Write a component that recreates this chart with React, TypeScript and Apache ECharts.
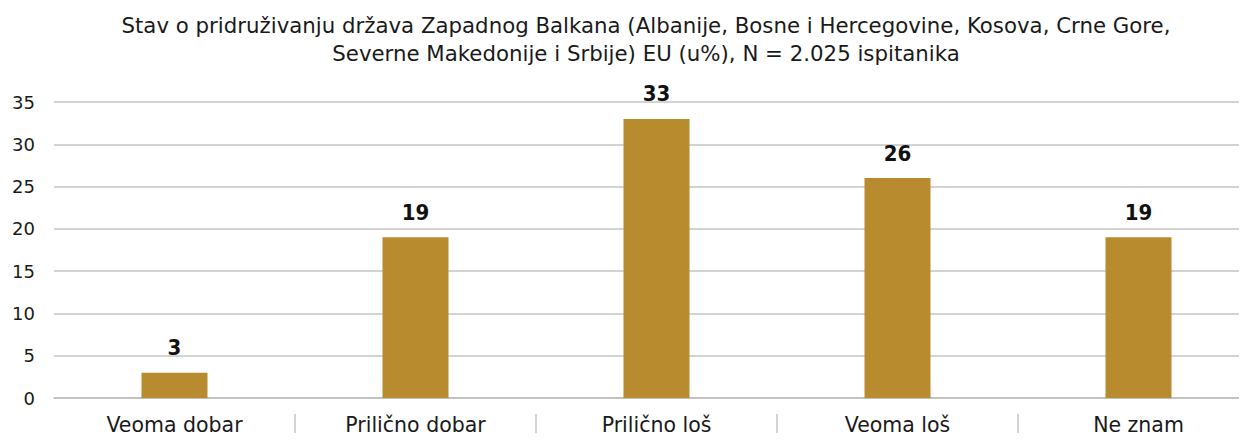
import React, { useEffect, useRef } from "react";
import * as echarts from "echarts";

const titleLines = [
  "Stav o pridruživanju država Zapadnog Balkana (Albanije, Bosne i Hercegovine, Kosova, Crne Gore,",
  "Severne Makedonije i Srbije) EU (u%), N = 2.025 ispitanika",
];
const categories = ["Veoma dobar", "Prilično dobar", "Prilično loš", "Veoma loš", "Ne znam"];
const values = [3, 19, 33, 26, 19];
const yTicks = { min: 0, max: 35, interval: 5 };

export default function App() {
  const ref = useRef<HTMLDivElement>(null);
  useEffect(() => {
    if (!ref.current) return;
    const chart = echarts.init(ref.current, null, { renderer: "svg" });
    const font = "'DejaVu Sans', sans-serif";
    chart.setOption({
      animation: false,
      backgroundColor: "#ffffff",
      title: {
        text: titleLines.join("\n"),
        left: 641,
        top: 6,
        textAlign: "center",
        textStyle: {
          fontFamily: font,
          fontSize: 21.3,
          fontWeight: "normal",
          color: "#1a1a1a",
          lineHeight: 28,
        },
      },
      grid: {
        left: 54,
        width: 1205,
        top: 102,
        bottom: 43,
        containLabel: false,
        outerBoundsMode: "none",
      },
      xAxis: [
        {
          type: "category",
          data: categories,
          axisLine: { show: true, lineStyle: { color: "#bdbdbd", width: 1.5 } },
          axisTick: { show: false },
          axisLabel: {
            fontFamily: font,
            fontSize: 20.5,
            color: "#1a1a1a",
            margin: 16,
          },
        },
        {
          type: "category",
          data: categories,
          position: "bottom",
          offset: 16,
          axisLine: { show: false },
          axisLabel: { show: false },
          axisTick: {
            show: true,
            length: 30,
            interval: (index: number) => index !== 0,
            lineStyle: { color: "#c4c4c4", width: 1.5 },
          },
        },
      ],
      yAxis: {
        type: "value",
        min: yTicks.min,
        max: yTicks.max,
        interval: yTicks.interval,
        axisLine: { show: false },
        axisTick: { show: false },
        axisLabel: {
          fontFamily: font,
          fontSize: 18,
          color: "#1a1a1a",
          margin: 19,
        },
        splitLine: { lineStyle: { color: "#c4c4c4", width: 1.5 } },
      },
      series: [
        {
          type: "bar",
          data: values,
          barWidth: 66,
          itemStyle: { color: "#B88B2F" },
          label: {
            show: true,
            position: "top",
            distance: 14,
            fontFamily: "'Liberation Sans Narrow', 'DejaVu Sans Condensed', sans-serif",
            fontWeight: "bold",
            fontSize: 22,
            color: "#111111",
          },
        },
      ],
    });
    return () => chart.dispose();
  }, []);
  return <div ref={ref} style={{ width: 1247, height: 441, margin: -8 }} />;
}
